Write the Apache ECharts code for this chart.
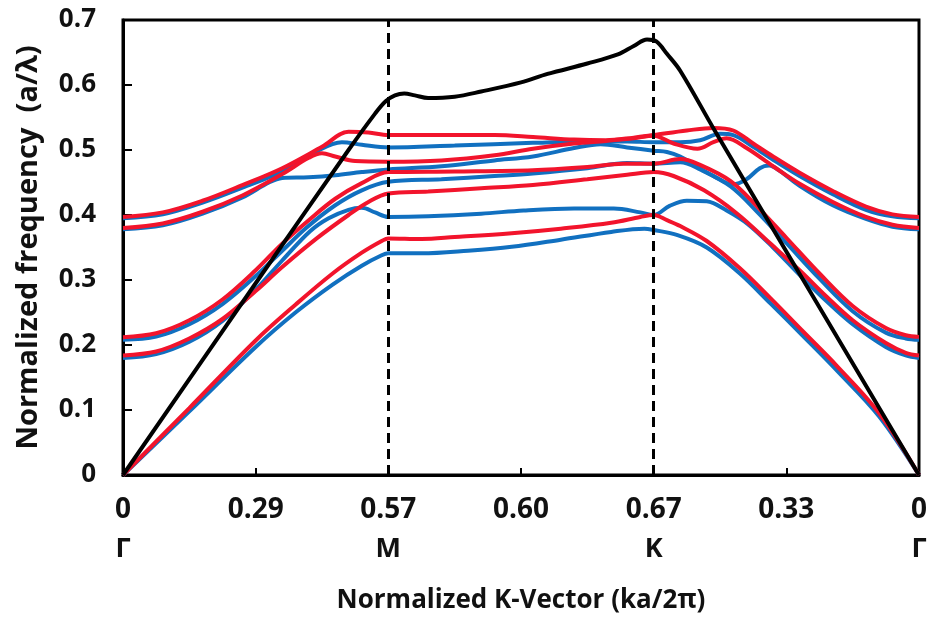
<!DOCTYPE html>
<html><head><meta charset="utf-8">
<script src="https://cdn.jsdelivr.net/npm/echarts@6/dist/echarts.min.js"></script>
<style>html,body{margin:0;padding:0;background:#fff}#c{width:930px;height:622px}</style>
</head><body><div id="c"></div>
<script>
// x positions: 0=Γ, 2=M, 4=K, 6=Γ (one unit per tick)
const xTickLabels = ['0','0.29','0.57','0.60','0.67','0.33','0'];
const pointLabels = ['Γ','','M','','K','','Γ'];
const symmetryPoints = [2, 4];

const lightLine = [[0,0],[1,0.295],[1.7,0.5],[1.9,0.556],[1.98,0.575],[2.05,0.584],[2.12,0.587],[2.2,0.584],[2.3,0.58],[2.5,0.582],[2.7,0.59],[3.0,0.604],[3.2,0.617],[3.5,0.633],[3.73,0.647],[3.85,0.66],[3.95,0.67],[4.02,0.667],[4.1,0.648],[4.2,0.622],[4.46,0.53],[5,0.344],[6,0]];

const red1 = [[0,0],[0.5,0.103],[1.0,0.207],[1.3,0.262],[1.58,0.31],[1.8,0.342],[1.95,0.36],[2,0.364],[2.25,0.363],[2.5,0.366],[2.93,0.372],[3.3,0.379],[3.68,0.388],[3.9,0.397],[4,0.40],[4.1,0.392],[4.2,0.383],[4.4,0.36],[4.65,0.318],[4.88,0.272],[5.13,0.22],[5.38,0.168],[5.7,0.095],[6,0]];
const blue1 = [[0,0],[0.5,0.098],[1.0,0.197],[1.3,0.25],[1.58,0.293],[1.8,0.322],[1.95,0.338],[2,0.341],[2.25,0.341],[2.6,0.345],[2.93,0.351],[3.3,0.362],[3.68,0.374],[3.93,0.379],[4,0.377],[4.18,0.369],[4.4,0.35],[4.65,0.31],[4.88,0.264],[5.13,0.213],[5.38,0.161],[5.7,0.09],[6,0]];
const red2 = [[0,0.184],[0.25,0.19],[0.5,0.21],[0.75,0.24],[1.0,0.283],[1.2,0.32],[1.46,0.364],[1.7,0.4],[1.85,0.42],[2,0.433],[2.3,0.436],[2.7,0.441],[3.09,0.446],[3.5,0.455],[3.8,0.462],[4,0.466],[4.15,0.46],[4.38,0.438],[4.63,0.402],[4.88,0.356],[5.1,0.315],[5.3,0.275],[5.5,0.238],[5.75,0.203],[5.9,0.188],[6,0.184]];
const blue2 = [[0,0.18],[0.25,0.186],[0.5,0.205],[0.75,0.237],[1.0,0.285],[1.2,0.33],[1.41,0.375],[1.55,0.395],[1.7,0.408],[1.8,0.411],[1.9,0.404],[2,0.397],[2.3,0.398],[2.7,0.402],[3.02,0.407],[3.4,0.41],[3.7,0.41],[3.9,0.404],[4,0.40],[4.12,0.414],[4.25,0.422],[4.4,0.421],[4.55,0.407],[4.71,0.386],[4.9,0.35],[5.1,0.308],[5.3,0.268],[5.5,0.232],[5.75,0.197],[5.9,0.184],[6,0.18]];
const red3 = [[0,0.212],[0.25,0.218],[0.5,0.238],[0.75,0.27],[1.0,0.315],[1.2,0.356],[1.4,0.392],[1.6,0.425],[1.8,0.449],[2,0.466],[2.5,0.467],[3.09,0.469],[3.5,0.474],[3.77,0.479],[4,0.479],[4.2,0.486],[4.35,0.477],[4.58,0.452],[4.78,0.413],[5.0,0.365],[5.25,0.31],[5.5,0.26],[5.75,0.226],[5.9,0.215],[6,0.2125]];
const blue3 = [[0,0.208],[0.25,0.213],[0.5,0.232],[0.75,0.263],[1.0,0.306],[1.2,0.345],[1.38,0.38],[1.6,0.415],[1.8,0.438],[2,0.451],[2.4,0.455],[2.8,0.46],[3.09,0.464],[3.5,0.472],[3.8,0.48],[4,0.479],[4.2,0.481],[4.35,0.47],[4.58,0.444],[4.78,0.405],[5.0,0.357],[5.25,0.302],[5.5,0.252],[5.75,0.219],[5.9,0.21],[6,0.208]];
const red4 = [[0,0.38],[0.3,0.387],[0.6,0.405],[0.9,0.43],[1.2,0.463],[1.4,0.488],[1.5,0.495],[1.6,0.49],[1.75,0.483],[2,0.482],[2.4,0.484],[2.8,0.492],[3.09,0.502],[3.4,0.51],[3.64,0.514],[3.85,0.518],[4,0.522],[4.15,0.51],[4.33,0.502],[4.45,0.512],[4.55,0.518],[4.7,0.503],[4.9,0.475],[5.1,0.448],[5.35,0.42],[5.6,0.397],[5.8,0.385],[6,0.38]];
const blue4 = [[0,0.378],[0.3,0.384],[0.6,0.402],[0.9,0.427],[1.1,0.45],[1.2,0.457],[1.4,0.458],[1.6,0.461],[1.8,0.466],[2,0.47],[2.4,0.475],[2.8,0.484],[3.09,0.49],[3.4,0.503],[3.6,0.509],[3.8,0.504],[4,0.499],[4.1,0.497],[4.2,0.49],[4.3,0.478],[4.45,0.46],[4.6,0.447],[4.7,0.455],[4.8,0.472],[4.87,0.476],[4.95,0.468],[5.1,0.445],[5.35,0.415],[5.6,0.394],[5.8,0.382],[6,0.378]];
const red5 = [[0,0.397],[0.3,0.404],[0.6,0.422],[0.9,0.446],[1.2,0.472],[1.5,0.505],[1.7,0.528],[1.85,0.527],[2,0.523],[2.4,0.523],[2.8,0.523],[3.09,0.52],[3.4,0.516],[3.64,0.515],[3.85,0.519],[4,0.523],[4.25,0.53],[4.45,0.534],[4.6,0.53],[4.75,0.51],[4.9,0.49],[5.1,0.465],[5.35,0.437],[5.6,0.413],[5.8,0.401],[6,0.397]];
const blue5 = [[0,0.395],[0.3,0.401],[0.6,0.419],[0.9,0.442],[1.2,0.467],[1.45,0.497],[1.65,0.512],[1.8,0.508],[2,0.504],[2.5,0.507],[3.09,0.511],[3.5,0.513],[3.8,0.513],[4,0.512],[4.2,0.512],[4.35,0.515],[4.5,0.525],[4.6,0.523],[4.75,0.505],[4.9,0.485],[5.1,0.46],[5.35,0.432],[5.6,0.408],[5.8,0.398],[6,0.395]];

const FONT = '"Open Sans", "Noto Sans", sans-serif';
const RED = '#f2142c', BLUE = '#1170c0', INK = '#111';

function band(data, color, z) {
  return {type:'line', data, smooth:0.35, symbol:'none', z,
    lineStyle:{color, width:4}, emphasis:{disabled:true}};
}
const blues = [blue1,blue2,blue3,blue4,blue5].map(d => band(d, BLUE, 2));
const reds = [red1,red2,red3,red4,red5].map(d => band(d, RED, 3));
const light = band(lightLine, '#000', 4);
light.markLine = {silent:true, symbol:['none','none'], label:{show:false},
  lineStyle:{type:[10,6], color:'#000', width:3},
  data: symmetryPoints.map(v => ({xAxis:v}))};

const chart = echarts.init(document.getElementById('c'));
chart.setOption({
  animation:false,
  backgroundColor:'#fff',
  grid:{left:123, right:8, top:20, bottom:147, show:true, borderColor:'#000', borderWidth:3},
  xAxis:{type:'value', min:0, max:6, interval:1,
    axisLine:{show:true, lineStyle:{color:'#000', width:3}},
    axisTick:{show:true, inside:true, length:7, lineStyle:{color:'#000', width:2}},
    splitLine:{show:false},
    axisLabel:{margin:16, formatter:v => {const i = Math.round(v); return '{n|' + xTickLabels[i] + '}\n{g|' + (pointLabels[i] || ' ') + '}';},
      rich:{n:{fontSize:28, fontWeight:'bold', fontFamily:FONT, color:INK, lineHeight:39},
            g:{fontSize:27, fontWeight:'bold', fontFamily:FONT, color:INK, lineHeight:39}}},
    name:'Normalized K-Vector (ka/2π)', nameLocation:'middle', nameGap:113,
    nameTextStyle:{fontSize:26, fontWeight:'bold', fontFamily:FONT, color:INK}
  },
  yAxis:{type:'value', min:0, max:0.7, interval:0.1,
    axisLine:{show:true, lineStyle:{color:'#000', width:3}},
    axisTick:{show:true, inside:true, length:9, lineStyle:{color:'#000', width:2}},
    splitLine:{show:false},
    axisLabel:{margin:27, fontSize:26, fontWeight:'bold', fontFamily:FONT, color:INK,
      formatter:v => v === 0 ? '0' : v.toFixed(1)},
    name:'Normalized frequency  (a/λ)', nameLocation:'middle', nameGap:80,
    nameTextStyle:{fontSize:29, fontWeight:'bold', fontFamily:FONT, color:INK}
  },
  series:[...blues, ...reds, light]
});
</script></body></html>
